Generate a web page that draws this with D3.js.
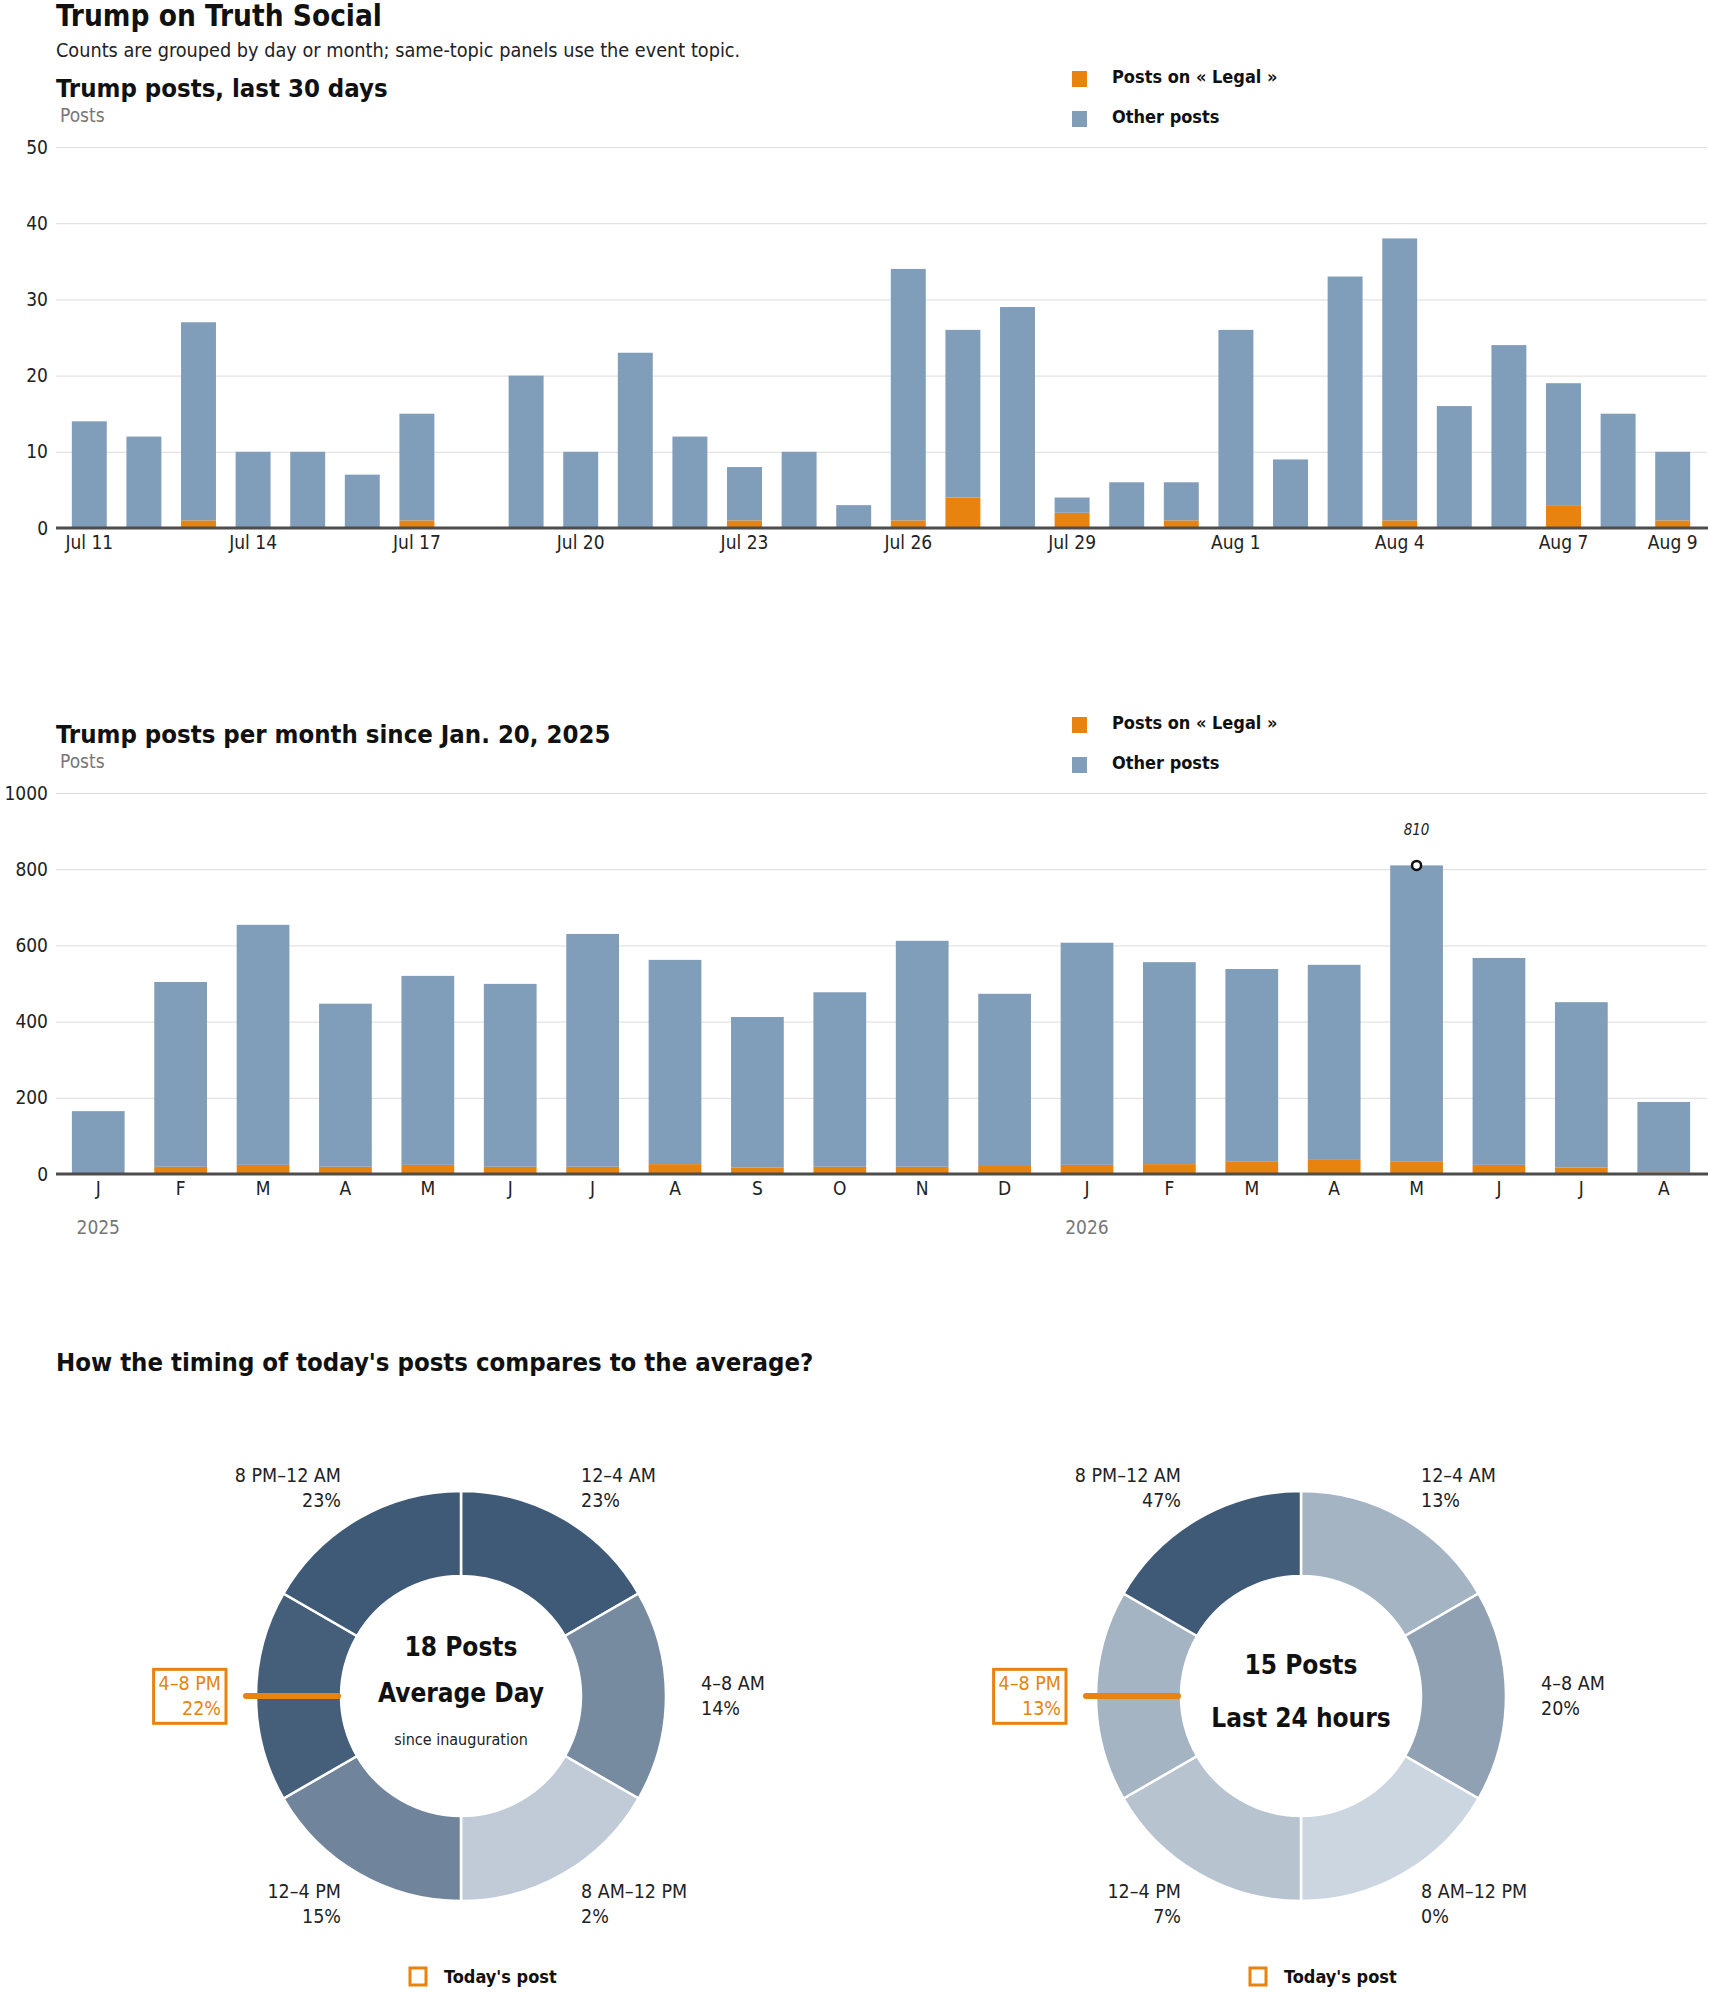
<!DOCTYPE html>
<html>
<head>
<meta charset="utf-8">
<script src="https://cdn.jsdelivr.net/npm/d3@7"></script>
<style>
  body { margin: 0; background: #fff; }
  svg text {
    font-family: "Liberation Sans Narrow", "DejaVu Sans Condensed", "Roboto Condensed", "Liberation Sans", sans-serif;
    fill: #222;
  }
  .main-title { font-size: 29.5px; font-weight: 700; fill: #111; }
  .subtitle { font-size: 19.7px; }
  .chart-title { font-size: 25.5px; font-weight: 700; fill: #111; }
  .unit { font-size: 19px; fill: #777; }
  .legend-label { font-size: 18px; font-weight: 700; fill: #111; }
  .axis text { font-size: 19px; fill: #222; }
  .axis .tick line { stroke: #dcdcdc; }
  .year-axis text { fill: #777; }
  .annot { font-size: 15px; font-style: italic; }
  .slot-label { font-size: 19.5px; }
  .center-big { font-size: 26px; font-weight: 700; fill: #111; }
  .center-small { font-size: 16px; }
</style>
</head>
<body>
<div id="chart"></div>
<script>
// ---- data ----
const dayLabels = ["Jul 11", "Jul 12", "Jul 13", "Jul 14", "Jul 15", "Jul 16", "Jul 17", "Jul 18", "Jul 19", "Jul 20",
  "Jul 21", "Jul 22", "Jul 23", "Jul 24", "Jul 25", "Jul 26", "Jul 27", "Jul 28", "Jul 29", "Jul 30",
  "Jul 31", "Aug 1", "Aug 2", "Aug 3", "Aug 4", "Aug 5", "Aug 6", "Aug 7", "Aug 8", "Aug 9"];
const dayTotals = [14, 12, 27, 10, 10, 7, 15, 0, 20, 10, 23, 12, 8, 10, 3, 34, 26, 29, 4, 6, 6, 26, 9, 33, 38, 16, 24, 19, 15, 10];
const dayLegal = [0, 0, 1, 0, 0, 0, 1, 0, 0, 0, 0, 0, 1, 0, 0, 1, 4, 0, 2, 0, 1, 0, 0, 0, 1, 0, 0, 3, 0, 1];
const dayTicks = ["Jul 11", "Jul 14", "Jul 17", "Jul 20", "Jul 23", "Jul 26", "Jul 29", "Aug 1", "Aug 4", "Aug 7", "Aug 9"];

const monthKeys = ["2025-01", "2025-02", "2025-03", "2025-04", "2025-05", "2025-06", "2025-07", "2025-08", "2025-09", "2025-10",
  "2025-11", "2025-12", "2026-01", "2026-02", "2026-03", "2026-04", "2026-05", "2026-06", "2026-07", "2026-08"];
const monthLetters = ["J", "F", "M", "A", "M", "J", "J", "A", "S", "O", "N", "D", "J", "F", "M", "A", "M", "J", "J", "A"];
const monthTotals = [165, 504, 654, 447, 520, 499, 630, 562, 412, 477, 612, 473, 607, 556, 538, 549, 810, 567, 451, 189];
const monthLegal = [2, 19, 24, 19, 24, 19, 19, 26, 17, 19, 19, 21, 24, 26, 32, 37, 32, 24, 17, 4];
const yearTickKeys = ["2025-01", "2026-01"];
const yearTickLabels = ["2025", "2026"];

const slotLabels = ["12–4 AM", "4–8 AM", "8 AM–12 PM", "12–4 PM", "4–8 PM", "8 PM–12 AM"];
const avgShares = [23, 14, 2, 15, 22, 23];
const dayShares = [13, 20, 0, 7, 13, 47];
const todaySlot = "4–8 PM";

const colors = { legal: "#e8830f", other: "#809db9" };

const svg = d3.select("#chart").append("svg").attr("width", 1710).attr("height", 1993);

svg.append("text").attr("class", "main-title").attr("x", 56).attr("y", 26).text("Trump on Truth Social");
svg.append("text").attr("class", "subtitle").attr("x", 56).attr("y", 57)
  .text("Counts are grouped by day or month; same-topic panels use the event topic.");

class StackedBars {
  constructor(_config, _cats, _totals, _legal) {
    this.config = _config;
    this.cats = _cats;
    this.totals = _totals;
    this.legal = _legal;
    this.initVis();
  }

  initVis() {
    let vis = this;
    const c = vis.config;
    vis.g = svg.append("g");

    vis.x = d3.scaleBand().domain(vis.cats).range([62, 1700])
      .paddingInner(0.36).paddingOuter(c.paddingOuter);
    vis.y = d3.scaleLinear().domain([0, c.yMax]).range([c.bottom, c.top]);

    vis.g.append("text").attr("class", "chart-title").attr("x", 56).attr("y", c.titleY).text(c.title);
    vis.g.append("text").attr("class", "unit").attr("x", 60).attr("y", c.titleY + 25).text("Posts");

    // legend
    const legend = vis.g.append("g").attr("transform", `translate(1072,${c.titleY - 26})`);
    const items = [["legal", "Posts on « Legal »"], ["other", "Other posts"]];
    items.forEach(([k, label], i) => {
      legend.append("rect").attr("y", i * 40).attr("width", 15).attr("height", 16).attr("fill", colors[k]);
      legend.append("text").attr("class", "legend-label").attr("x", 40).attr("y", i * 40 + 12).text(label);
    });

    // gridlines + y labels
    vis.g.append("g").attr("class", "axis")
      .attr("transform", "translate(56,0)")
      .call(d3.axisLeft(vis.y).tickValues(c.yTicks).tickFormat(d3.format("d"))
        .tickSize(-(1707 - 56)).tickPadding(8))
      .call(g => g.select(".domain").remove());

    const rows = vis.cats.map((d, i) => ({ key: d, legal: vis.legal[i], other: vis.totals[i] - vis.legal[i] }));
    const series = d3.stack().keys(["legal", "other"])(rows);

    vis.g.append("g").selectAll("g").data(series).join("g")
      .attr("fill", d => colors[d.key])
      .selectAll("rect").data(d => d).join("rect")
      .attr("x", d => vis.x(d.data.key))
      .attr("width", vis.x.bandwidth())
      .attr("y", d => vis.y(d[1]))
      .attr("height", d => vis.y(d[0]) - vis.y(d[1]));

    vis.g.append("g").attr("class", "axis")
      .attr("transform", `translate(0,${c.bottom})`)
      .call(d3.axisBottom(vis.x).tickValues(c.tickValues).tickFormat(c.tickFormat).tickSize(0).tickPadding(8))
      .call(g => g.select(".domain").remove());

    vis.g.append("line")
      .attr("x1", 56).attr("x2", 1708)
      .attr("y1", c.bottom).attr("y2", c.bottom)
      .attr("stroke", "#4d4d4d").attr("stroke-width", 3);
  }
}

const daily = new StackedBars({
  title: "Trump posts, last 30 days",
  titleY: 97, top: 147, bottom: 528, yMax: 50,
  yTicks: [0, 10, 20, 30, 40, 50],
  paddingOuter: 0.18,
  tickValues: dayTicks,
  tickFormat: d => d
}, dayLabels, dayTotals, dayLegal);

const monthly = new StackedBars({
  title: "Trump posts per month since Jan. 20, 2025",
  titleY: 743, top: 793, bottom: 1174, yMax: 1000,
  yTicks: [0, 200, 400, 600, 800, 1000],
  paddingOuter: 0.12,
  tickValues: monthKeys,
  tickFormat: (d, i) => monthLetters[i]
}, monthKeys, monthTotals, monthLegal);

// year labels under the months
monthly.g.append("g").attr("class", "axis year-axis")
  .attr("transform", "translate(0,1174)")
  .call(d3.axisBottom(monthly.x).tickValues(yearTickKeys)
    .tickFormat((d, i) => yearTickLabels[i]).tickSize(0).tickPadding(47))
  .call(g => g.select(".domain").remove());

// peak annotation
const peakIdx = d3.maxIndex(monthTotals);
const peakX = monthly.x(monthKeys[peakIdx]) + monthly.x.bandwidth() / 2;
monthly.g.append("circle")
  .attr("cx", peakX).attr("cy", monthly.y(monthTotals[peakIdx]))
  .attr("r", 4.5).attr("fill", "#fff").attr("stroke", "#111").attr("stroke-width", 2.5);
monthly.g.append("text").attr("class", "annot")
  .attr("x", peakX).attr("y", monthly.y(monthTotals[peakIdx]) - 30)
  .attr("text-anchor", "middle").text(monthTotals[peakIdx]);

// ---- donuts ----
svg.append("text").attr("class", "chart-title").attr("x", 56).attr("y", 1371)
  .text("How the timing of today's posts compares to the average?");

class Donut {
  constructor(_config, _shares) {
    this.config = _config;
    this.shares = _shares;
    this.initVis();
  }

  initVis() {
    let vis = this;
    const c = vis.config;
    vis.g = svg.append("g").attr("transform", `translate(${c.cx},${c.cy})`);

    const color = d3.scaleLinear().domain([0, d3.max(vis.shares)]).range(["#ccd6e0", "#3f5a76"]);
    const pie = d3.pie().value(1).sort(null);
    const arc = d3.arc().innerRadius(120).outerRadius(205);
    const arcs = pie(slotLabels.map((s, i) => ({ slot: s, share: vis.shares[i] })));

    vis.g.selectAll("path.slice").data(arcs).join("path")
      .attr("class", "slice")
      .attr("d", arc)
      .attr("fill", d => color(d.data.share))
      .attr("stroke", "#fff").attr("stroke-width", 2.5);

    // today marker
    const today = arcs.find(d => d.data.slot === todaySlot);
    const mid = (today.startAngle + today.endAngle) / 2;
    vis.g.append("line")
      .attr("x1", Math.sin(mid) * 215).attr("y1", -Math.cos(mid) * 215)
      .attr("x2", Math.sin(mid) * 123).attr("y2", -Math.cos(mid) * 123)
      .attr("stroke", colors.legal).attr("stroke-width", 6).attr("stroke-linecap", "round");

    // slot labels
    arcs.forEach(d => {
      const a = (d.startAngle + d.endAngle) / 2;
      const lx = Math.sin(a) * 240, ly = -Math.cos(a) * 240;
      const anchor = Math.sin(a) > 0 ? "start" : "end";
      const isToday = d.data.slot === todaySlot;
      const t = vis.g.append("text").attr("class", "slot-label")
        .attr("text-anchor", anchor)
        .style("fill", isToday ? colors.legal : "#222");
      t.append("tspan").attr("x", lx).attr("y", ly - 12.5).attr("dy", "0.35em").text(d.data.slot);
      t.append("tspan").attr("x", lx).attr("y", ly + 12.5).attr("dy", "0.35em").text(d.data.share + "%");
      if (isToday) {
        const bb = t.node().getBBox();
        vis.g.insert("rect", "text")
          .attr("x", bb.x - 5).attr("y", bb.y - 3)
          .attr("width", bb.width + 10).attr("height", bb.height + 6)
          .attr("fill", "none").attr("stroke", colors.legal).attr("stroke-width", 3);
      }
    });

    // center text
    c.center.forEach(([txt, cls, dy]) => {
      vis.g.append("text").attr("class", cls).attr("text-anchor", "middle")
        .attr("y", dy).attr("dy", "0.35em").text(txt);
    });

    // legend
    const lg = vis.g.append("g").attr("transform", "translate(-51,272)");
    lg.append("rect").attr("x", 0).attr("y", 0).attr("width", 16).attr("height", 17)
      .attr("fill", "none").attr("stroke", colors.legal).attr("stroke-width", 3);
    lg.append("text").attr("class", "legend-label").attr("x", 34).attr("y", 8.5).attr("dy", "0.35em")
      .style("font-size", "18px").text("Today's post");
  }
}

new Donut({
  cx: 461, cy: 1696,
  center: [["18 Posts", "center-big", -49], ["Average Day", "center-big", -3], ["since inauguration", "center-small", 43]]
}, avgShares);

new Donut({
  cx: 1301, cy: 1696,
  center: [["15 Posts", "center-big", -31], ["Last 24 hours", "center-big", 22]]
}, dayShares);
</script>
</body>
</html>
